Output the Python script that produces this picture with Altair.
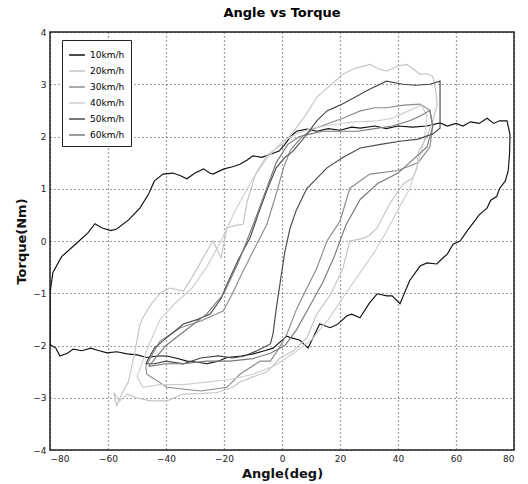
import altair as alt
import pandas as pd

series_names = ["10km/h", "20km/h", "30km/h", "40km/h", "50km/h", "60km/h"]
series_colors = ["#111111", "#c4c4c4", "#8c8c8c", "#cfcfcf", "#4a4a4a", "#7a7a7a"]

# 10 km/h loop (angle, torque)
a10 = [-80, -79, -76, -72, -70, -67, -64.5, -62, -59, -57, -53, -49, -46, -44, -41, -37.6, -35, -32.8, -30, -27, -25, -23.8,
       -20, -17, -14.5, -12, -10, -7, -4, -1, 1, 3, 5, 8.6, 12, 16, 20, 24, 27, 32, 36, 40, 45, 50, 54.5, 57, 60, 62.4, 65,
       68, 70.7, 73, 75, 77.6, 78.6, 78.5, 78, 77, 75, 74, 72, 70.7, 68, 66, 63.8, 61.4, 59, 57, 55, 53.4, 50, 47.6, 44,
       40.7, 38, 36.2, 32.8, 30, 26.9, 24, 22.4, 19, 16.6, 13, 9, 6.2, 3, 1.7, -1, -3.1, -6, -10, -14, -19, -22, -25.9,
       -29, -32.8, -36, -39.7, -43, -46.6, -50, -53.4, -57, -60.3, -63, -66, -69, -72, -74, -76.6, -78, -80, -80, -80]
t10 = [-1.0, -0.6, -0.3, -0.1, 0.0, 0.15, 0.33, 0.25, 0.2, 0.23, 0.4, 0.63, 0.9, 1.15, 1.28, 1.3, 1.25, 1.19, 1.3, 1.38, 1.3,
       1.28, 1.38, 1.42, 1.47, 1.55, 1.63, 1.6, 1.66, 1.72, 1.85, 2.0, 2.1, 2.14, 2.1, 2.15, 2.12, 2.18, 2.16, 2.2, 2.15, 2.2,
       2.18, 2.2, 2.26, 2.2, 2.25, 2.2, 2.28, 2.25, 2.35, 2.25, 2.3, 2.3, 2.04, 1.7, 1.34, 1.15, 1.0, 0.85, 0.78, 0.63, 0.5,
       0.35, 0.19, 0.0, -0.06, -0.25, -0.35, -0.44, -0.42, -0.48, -0.76, -1.2, -1.05, -1.05, -1.01, -1.2, -1.47, -1.4, -1.43,
       -1.6, -1.66, -1.59, -2.05, -1.9, -1.85, -1.82, -1.95, -2.05, -2.1, -2.16, -2.2, -2.23, -2.3, -2.35, -2.32, -2.3,
       -2.25, -2.2, -2.2, -2.23, -2.18, -2.16, -2.12, -2.14, -2.1, -2.05, -2.1, -2.07, -2.15, -2.2, -2.05, -1.98, -1.5, -1.0]

# 20 km/h loop
a20 = [-58, -57, -55, -53, -51, -49, -48, -45, -42, -38.6, -34, -30, -26, -23.8, -21, -19, -16, -13.4, -12, -9, -5, 0, 4, 8,
       12, 16, 21, 25, 30.3, 33, 36, 40, 43, 45, 47.6, 50, 52, 53, 53.5, 52, 50, 47, 46.6, 45, 42, 40.7, 37, 32.8, 30, 28,
       23.4, 21, 17, 12, 8.6, 4, -0.7, -5, -10, -14.5, -17, -22.4, -28, -34, -39.7, -45.5, -50, -53.4, -56, -58]
t20 = [-2.9, -3.15, -2.9, -2.7, -2.2, -1.6, -1.47, -1.2, -1.0, -0.9, -0.96, -0.6, -0.2, 0.0, -0.32, 0.25, 0.3, 0.32, 0.76,
       1.3, 1.65, 1.85, 2.1, 2.4, 2.75, 2.95, 3.19, 3.3, 3.38, 3.3, 3.25, 3.35, 3.38, 3.3, 3.19, 3.2, 3.15, 2.9, 2.6, 2.3,
       2.0, 1.7, 1.4, 1.2, 1.1, 1.01, 0.7, 0.25, 0.1, 0.05, 0.0, -0.52, -1.0, -1.4, -1.85, -2.1, -2.24, -2.5, -2.6, -2.7,
       -2.8, -2.9, -2.92, -2.93, -3.06, -3.06, -3.0, -2.93, -3.06, -2.9]

# 30 km/h loop
a30 = [-47, -42, -35, -28, -20.3, -17, -14.5, -10, -5.2, -2, 0.5, 3, 7, 11, 15.5, 21, 27, 32, 36, 42, 47.6, 51, 52, 51, 47,
       40, 33, 30.3, 23.4, 20, 15.5, 12, 5.2, 1.7, -1, -4, -7.6, -14.5, -19, -28, -39.7, -46.6, -47]
t30 = [-2.4, -1.91, -1.66, -1.53, -1.34, -1.0, -0.7, -0.2, 0.32, 0.9, 1.4, 1.75, 2.0, 2.15, 2.24, 2.35, 2.49, 2.55, 2.55,
       2.6, 2.62, 2.5, 2.2, 1.8, 1.5, 1.35, 1.3, 1.28, 1.01, 0.38, 0.0, -0.52, -1.28, -1.78, -2.05, -2.3, -2.3, -2.55, -2.8,
       -2.87, -2.8, -2.55, -2.4]

# 40 km/h loop
a40 = [-50, -46, -42, -37, -31, -26, -21, -16, -10, -5, 0, 5, 10, 15, 19, 25, 32.8, 38, 44, 48, 50, 49, 47, 44, 40, 36.2,
       32, 27, 22, 16, 10, 4, -3, -10, -18, -26, -34, -42, -48, -50]
t40 = [-2.6, -2.0, -1.5, -1.2, -0.9, -0.5, 0.0, 0.6, 1.2, 1.6, 1.9, 2.05, 2.15, 2.2, 2.24, 2.28, 2.3, 2.35, 2.5, 2.6, 2.4,
       1.9, 1.5, 1.0, 0.6, 0.2, -0.2, -0.6, -1.0, -1.5, -1.9, -2.15, -2.4, -2.55, -2.65, -2.7, -2.75, -2.75, -2.8, -2.6]

# 50 km/h loop
a50 = [-47, -44, -39.7, -34, -29, -24.8, -21, -19, -15, -11, -8, -5, -2, 1, 3.8, 8, 12, 15.5, 20, 24.5, 30, 36, 41.7, 46,
       51, 54.5, 54.5, 54.5, 52, 47, 40.7, 34, 27, 21, 15.5, 12, 8.6, 5, 2.8, 1, -0.7, -2, -3.1, -4, -8.6, -13, -17, -22,
       -28, -34, -40, -44, -47]
t50 = [-2.35, -2.05, -1.85, -1.59, -1.5, -1.4, -1.1, -0.83, -0.35, 0.06, 0.55, 1.0, 1.4, 1.6, 1.72, 2.0, 2.3, 2.49, 2.6,
       2.73, 2.9, 3.06, 3.0, 2.98, 3.0, 3.06, 2.73, 2.16, 2.05, 1.95, 1.91, 1.85, 1.78, 1.6, 1.4, 1.2, 1.01, 0.6, 0.25,
       -0.2, -0.82, -1.3, -1.78, -1.97, -2.1, -2.2, -2.24, -2.2, -2.24, -2.35, -2.3, -2.35, -2.35]

# 60 km/h loop
a60 = [-46, -40, -33, -26, -20, -15, -10, -6, -2, 2, 6, 10, 14, 20, 26, 32, 38, 44, 48, 51, 52, 50, 46, 40, 33, 27, 22, 18,
       14, 9, 5, 1, -4, -10, -18, -26, -34, -40, -46]
t60 = [-2.4, -2.0, -1.7, -1.4, -1.0, -0.4, 0.3, 0.9, 1.5, 1.85, 2.0, 2.05, 2.1, 2.1, 2.1, 2.15, 2.2, 2.3, 2.4, 2.5, 2.2,
       1.8, 1.6, 1.3, 1.1, 0.8, 0.3, -0.3, -0.8, -1.3, -1.7, -2.0, -2.15, -2.25, -2.3, -2.3, -2.35, -2.35, -2.4]

x_ticks = [-80, -60, -40, -20, 0, 20, 40, 60, 80]
y_ticks = [-4, -3, -2, -1, 0, 1, 2, 3, 4]

rows = []
for name, aa, tt in zip(series_names, [a10, a20, a30, a40, a50, a60], [t10, t20, t30, t40, t50, t60]):
    for i, (a, t) in enumerate(zip(aa, tt)):
        rows.append({"series": name, "idx": i, "angle": a, "torque": t})
df = pd.DataFrame(rows)

FONT = "DejaVu Sans"

chart = alt.Chart(df).mark_line(strokeWidth=1.15, clip=True).encode(
    x=alt.X("angle:Q", scale=alt.Scale(domain=[-80, 80], nice=False),
            axis=alt.Axis(title="Angle(deg)", values=x_ticks, format="d")),
    y=alt.Y("torque:Q", scale=alt.Scale(domain=[-4, 4], nice=False),
            axis=alt.Axis(title="Torque(Nm)", values=y_ticks, format="d")),
    color=alt.Color("series:N", sort=series_names,
                    scale=alt.Scale(domain=series_names, range=series_colors),
                    legend=alt.Legend(title=None, orient="none", legendX=12, legendY=8,
                                      symbolType="stroke", symbolSize=250, symbolStrokeWidth=1.5,
                                      strokeColor="#222", fillColor="white", padding=6,
                                      labelFontSize=9, labelFont=FONT, rowPadding=2)),
    detail="series:N",
    order="idx:Q",
).properties(
    width=464, height=418,
    title=alt.TitleParams("Angle vs Torque", fontSize=13, font=FONT, fontWeight="bold", offset=8),
    autosize=alt.AutoSizeParams(type="none"),
    padding={"left": 50, "top": 32, "right": 14, "bottom": 34},
).configure_view(
    stroke="#222", strokeWidth=1.5
).configure_axis(
    grid=True, gridColor="#222", gridDash=[1, 3], gridOpacity=0.85, gridWidth=1.2,
    domain=False, ticks=False, labelFont=FONT, labelFontSize=9, labelColor="#222",
    titleFont=FONT, titleFontSize=13, titleFontWeight="bold", titleColor="#111", labelPadding=4,
)

chart.save("out.html", embed_options={"renderer": "svg", "actions": False})
